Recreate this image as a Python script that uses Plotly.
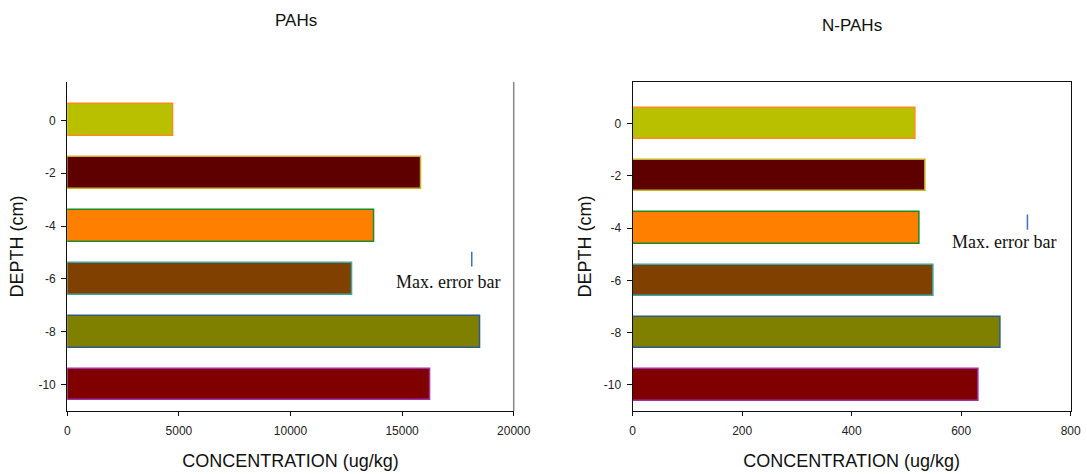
import plotly.graph_objects as go

# Sediment core depth slices (cm)
depths = [0, -2, -4, -6, -8, -10]

# Total concentrations per slice (ug/kg)
pahs = [4750, 15840, 13740, 12780, 18490, 16240]
npahs = [516, 535, 524, 549, 672, 632]

# Fill and outline colours per depth slice
fill_colors = ["#b8c000", "#5e0000", "#ff8000", "#804000", "#808000", "#800000"]
line_colors = ["#ff8c1a", "#c8b428", "#1a8a2a", "#3aa6a6", "#2f5a86", "#a030a8"]

# Maximum error bar indicator: (x, y, half length) per panel
pahs_err = (18120, -5.25, 0.28)
npahs_err = (721, -3.77, 0.29)

x_ticks_pahs = [0, 5000, 10000, 15000, 20000]
x_ticks_npahs = [0, 200, 400, 600, 800]
y_ticks = depths

fig = go.Figure()

fig.add_trace(go.Bar(
    x=pahs, y=depths, orientation="h", width=1.2,
    marker=dict(color=fill_colors, line=dict(color=line_colors, width=1.5)),
    xaxis="x", yaxis="y", showlegend=False,
))
fig.add_trace(go.Bar(
    x=npahs, y=depths, orientation="h", width=1.2,
    marker=dict(color=fill_colors, line=dict(color=line_colors, width=1.5)),
    xaxis="x2", yaxis="y2", showlegend=False,
))

# Max. error bar marks
for (ex, ey, eh), xa, ya in [(pahs_err, "x", "y"), (npahs_err, "x2", "y2")]:
    fig.add_trace(go.Scatter(
        x=[ex, ex], y=[ey - eh, ey + eh], mode="lines",
        line=dict(color="#3f6fd0", width=1.5),
        xaxis=xa, yaxis=ya, showlegend=False, hoverinfo="skip",
    ))

tick_font = dict(family="Liberation Sans, Arial", size=12, color="#222")
title_font = dict(family="Liberation Sans, Arial", size=18, color="#111")
note_font = dict(family="Liberation Serif, Times New Roman", size=18, color="#111")

common_x = dict(
    showgrid=False, zeroline=False, showline=True, linecolor="#111", linewidth=1.2,
    ticks="outside", ticklen=4, tickcolor="#111", tickfont=tick_font,
    ticklabelstandoff=5, automargin=False,
    title=dict(text="CONCENTRATION (ug/kg)", font=title_font, standoff=16),
)
common_y = dict(
    showgrid=False, zeroline=False, showline=True, linecolor="#111", linewidth=1.2,
    ticks="outside", ticklen=5, tickcolor="#111", tickfont=tick_font,
    ticklabelstandoff=3, automargin=False,
    tickvals=y_ticks, ticktext=[str(v) for v in y_ticks],
)

fig.update_layout(
    width=1087, height=474,
    margin=dict(l=0, r=0, t=0, b=0),
    paper_bgcolor="white", plot_bgcolor="white",
    bargap=0,
    xaxis=dict(common_x, domain=[0.0619, 0.4726], range=[0, 20000],
               tickvals=x_ticks_pahs, ticktext=[str(v) for v in x_ticks_pahs],
               anchor="y"),
    yaxis=dict(common_y, domain=[0.133, 0.827], range=[-11.0, 1.45], anchor="x",
               title=dict(text="DEPTH (cm)", font=title_font, standoff=10)),
    xaxis2=dict(common_x, domain=[0.582, 0.985], range=[0, 800],
                tickvals=x_ticks_npahs, ticktext=[str(v) for v in x_ticks_npahs],
                anchor="y2", mirror=True),
    yaxis2=dict(common_y, domain=[0.133, 0.827], range=[-11.0, 1.59], anchor="x2",
                mirror=True,
                title=dict(text="DEPTH (cm)", font=title_font, standoff=7)),
    annotations=[
        dict(text="PAHs", x=296 / 1087, y=1 - 20 / 474, xref="paper", yref="paper",
             xanchor="center", yanchor="middle", showarrow=False,
             font=dict(family="Liberation Sans, Arial", size=17, color="#111")),
        dict(text="N-PAHs", x=852 / 1087, y=1 - 25 / 474, xref="paper", yref="paper",
             xanchor="center", yanchor="middle", showarrow=False,
             font=dict(family="Liberation Sans, Arial", size=17, color="#111")),
        dict(text="Max. error bar", x=17060, y=-6.12, xref="x", yref="y",
             xanchor="center", yanchor="middle", showarrow=False, font=note_font),
        dict(text="Max. error bar", x=678, y=-4.55, xref="x2", yref="y2",
             xanchor="center", yanchor="middle", showarrow=False, font=note_font),
    ],
    shapes=[
        dict(type="line", xref="x domain", yref="y domain", x0=1, x1=1, y0=0, y1=1,
             line=dict(color="#888", width=1.5)),
    ],
)

fig.write_html("out.html")
